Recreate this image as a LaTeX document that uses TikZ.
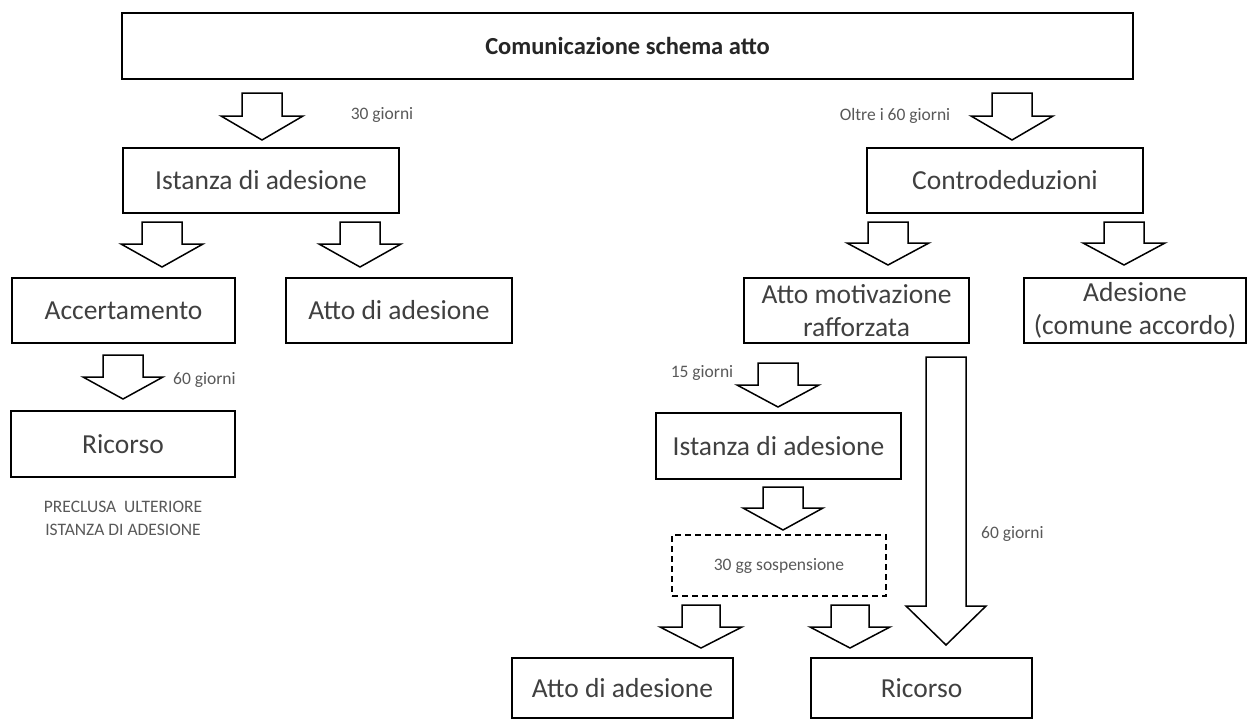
\documentclass[tikz,border=0pt]{standalone}
\usepackage{fontspec}
\setmainfont{Carlito}
\definecolor{txt}{HTML}{404040}
\definecolor{small}{HTML}{595959}
\newcommand\bigfont{\fontsize{27.5}{33}\selectfont}
\newcommand\smallfont{\fontsize{17.5}{23}\selectfont}
\newcommand\titlefont{\fontsize{24.5}{30}\selectfont\bfseries}
% block arrow: cx, top, shaft half width, wing y, head half width, tip y
\newcommand\barrow[6]{%
  \draw[blk] (#1-#3,#2) -- (#1+#3,#2) -- (#1+#3,#4) -- (#1+#5,#4) -- (#1,#6)
    -- (#1-#5,#4) -- (#1-#3,#4) -- cycle;}
\begin{document}
\begin{tikzpicture}[x=1pt,y=-1pt,
  box/.style={draw=black, line width=1.5pt, fill=white, inner sep=0pt, outer sep=0pt,
    font=\bigfont, text=txt, align=center},
  dbox/.style={box, dashed, dash pattern=on 6pt off 4pt, font=\smallfont, text=small},
  blk/.style={draw=black, line width=1.5pt, fill=white, line join=miter},
  lbl/.style={inner sep=0pt, font=\smallfont, text=small, align=center}]
\useasboundingbox (0,0) rectangle (1247,720);
\fill[white] (0,0) rectangle (1247,720);

% boxes
\node[box, line width=1.7pt, minimum width=1011pt, minimum height=66pt, font=\titlefont, text=black!85] (top) at (627.5,46) {Comunicazione schema atto};
\node[box, minimum width=276pt, minimum height=65pt] (ist1) at (261,180.5) {Istanza di adesione};
\node[box, minimum width=276pt, minimum height=65pt] (contro) at (1005,180.5) {Controdeduzioni};
\node[box, minimum width=223pt, minimum height=65pt] (acc) at (123.5,310.5) {Accertamento};
\node[box, minimum width=226pt, minimum height=65pt] (atto1) at (399,310.5) {Atto di adesione};
\node[box, minimum width=225pt, minimum height=65pt] (motiv) at (856.5,310.5) {Atto motivazione\\rafforzata};
\node[box, minimum width=222pt, minimum height=65pt] (ades) at (1135,310.5) {Adesione\\(comune accordo)};
\node[box, minimum width=224pt, minimum height=66pt] (ric1) at (123,444) {Ricorso};
\node[box, minimum width=245pt, minimum height=66pt] (ist2) at (778.5,446) {Istanza di adesione};
\node[dbox, minimum width=214pt, minimum height=61pt] (susp) at (779,565.5) {30 gg sospensione};
\node[box, minimum width=221pt, minimum height=60pt] (atto2) at (622.5,688) {Atto di adesione};
\node[box, minimum width=221pt, minimum height=60pt] (ric2) at (921.5,688) {Ricorso};

% block arrows
\barrow{262}{93}{20}{116}{41}{140}
\barrow{1012}{93}{20}{116}{41}{140}
\barrow{162}{222}{20}{244}{41}{267}
\barrow{360}{222}{20}{244}{41}{267}
\barrow{888}{222}{20}{243}{41}{265}
\barrow{1124}{222}{20}{243}{41}{265}
\barrow{123}{355}{20}{377}{40}{399}
\barrow{778}{363}{20}{385}{41}{407}
\barrow{783}{487}{20}{508}{40}{530}
\barrow{701}{605}{19}{627}{41}{648}
\barrow{850}{605}{19}{627}{40}{648}
\barrow{946}{357}{20}{606}{40}{645}

% labels
\node[lbl] (l30) at (382,115) {30 giorni};
\node[lbl] (l60a) at (895,116) {Oltre i 60 giorni};
\node[lbl, anchor=west] (l60b) at (173,380) {60 giorni};
\node[lbl] (l15) at (702,373) {15 giorni};
\node[lbl, anchor=west] (l60c) at (981,534) {60 giorni};
\node[lbl] (precl) at (123,518.5) {PRECLUSA\ \ ULTERIORE\\ISTANZA DI ADESIONE};
\end{tikzpicture}
\end{document}
